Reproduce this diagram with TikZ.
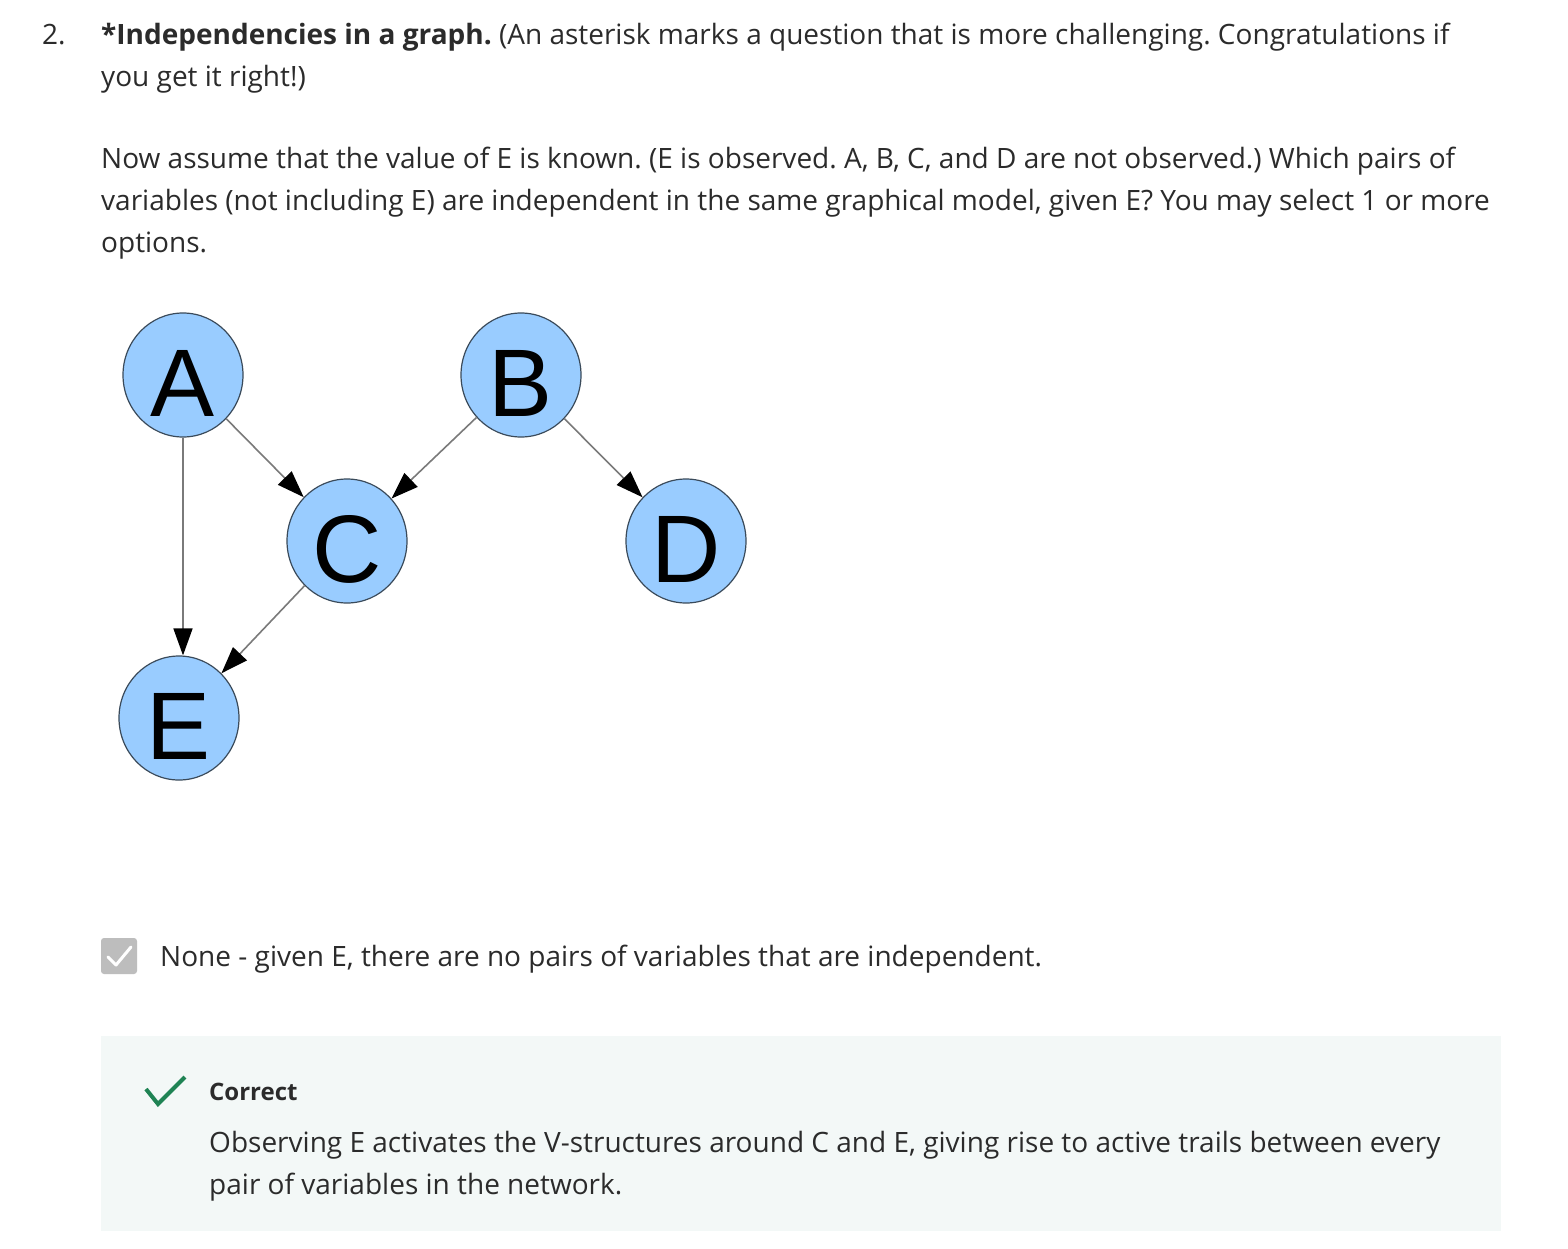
\documentclass[tikz,border=0pt]{standalone}
\usepackage{fontspec}
\setmainfont{Open Sans}
\newfontfamily\nodefont{Liberation Sans}
\usetikzlibrary{arrows.meta,shapes.geometric}
\definecolor{txt}{HTML}{2B2B2B}
\definecolor{nodefill}{HTML}{99CCFF}
\definecolor{nodeedge}{HTML}{3A4A5A}
\definecolor{edgegray}{HTML}{7A7A7A}
\definecolor{boxbg}{HTML}{F3F8F7}
\definecolor{checkgreen}{HTML}{1F8354}
\definecolor{cbgray}{HTML}{BDBDBD}
\tikzset{
  bn/.style={ellipse, draw=nodeedge, line width=1.2pt, fill=nodefill, minimum width=120pt, minimum height=124pt, inner sep=0pt, text height=83pt, text depth=0pt, font=\nodefont\fontsize{96}{96}\selectfont, text=black},
  edge/.style={draw=edgegray, line width=1.6pt, -{Triangle[length=27pt,width=19pt,fill=black,color=black]}},
  body/.style={anchor=base west, inner sep=0pt, text=txt, font=\fontsize{28}{42}\selectfont},
}
\frenchspacing
\begin{document}
\begin{tikzpicture}[x=1pt,y=-1pt]
\useasboundingbox (0,0) rectangle (1568,1248);
\fill[white] (0,0) rectangle (1568,1248);
% header
\node[body] (num) at (42,44) {2.};
\node[body] (l1) at (101,44) {\textbf{*Independencies in a graph.} (An asterisk marks a question that is more challenging. Congratulations if};
\node[body] (l2) at (101,86) {you get it right!)};
\node[body] (p1) at (101,168) {Now assume that the value of E is known. (E is observed. A, B, C, and D are not observed.) Which pairs of};
\node[body] (p2) at (101,210) {variables (not including E) are independent in the same graphical model, given E? You may select 1 or more};
\node[body] (p3) at (101,252) {options.};
% graph
\node[bn] (A) at (183,375) {A};
\node[bn] (B) at (521,375) {B};
\node[bn] (C) at (347,541) {C};
\node[bn] (D) at (686,541) {D};
\node[bn] (E) at (179,718) {E};
\draw[edge] (A.south) -- (E.north -| A.south);
\draw[edge] (A) -- (C);
\draw[edge] (B) -- (C);
\draw[edge] (B) -- (D);
\draw[edge] (C) -- (E);
% checkbox option
\node[fill=cbgray, rounded corners=3pt, minimum width=36pt, minimum height=36pt, inner sep=0pt] (cb) at (119,956) {};
\draw[white, line width=3pt, line cap=round, line join=round] ([shift={(-11,1)}]cb.center) -- ([shift={(-3,9)}]cb.center) -- ([shift={(12,-9)}]cb.center);
\node[body] (opt) at (160,966) {None - given E, there are no pairs of variables that are independent.};
% feedback box
\fill[boxbg] (101,1036) rectangle (1501,1231);
\coordinate (ck1) at (146,1089);
\coordinate (ck2) at (158,1104);
\coordinate (ck3) at (185,1077);
\draw[checkgreen, line width=4pt] (ck1) -- (ck2) -- (ck3);
\node[body, font=\fontsize{24}{36}\selectfont\bfseries] (corr) at (209,1100) {Correct};
\node[body] (f1) at (209,1152) {Observing E activates the V-structures around C and E, giving rise to active trails between every};
\node[body] (f2) at (209,1194) {pair of variables in the network.};
\end{tikzpicture}
\end{document}
